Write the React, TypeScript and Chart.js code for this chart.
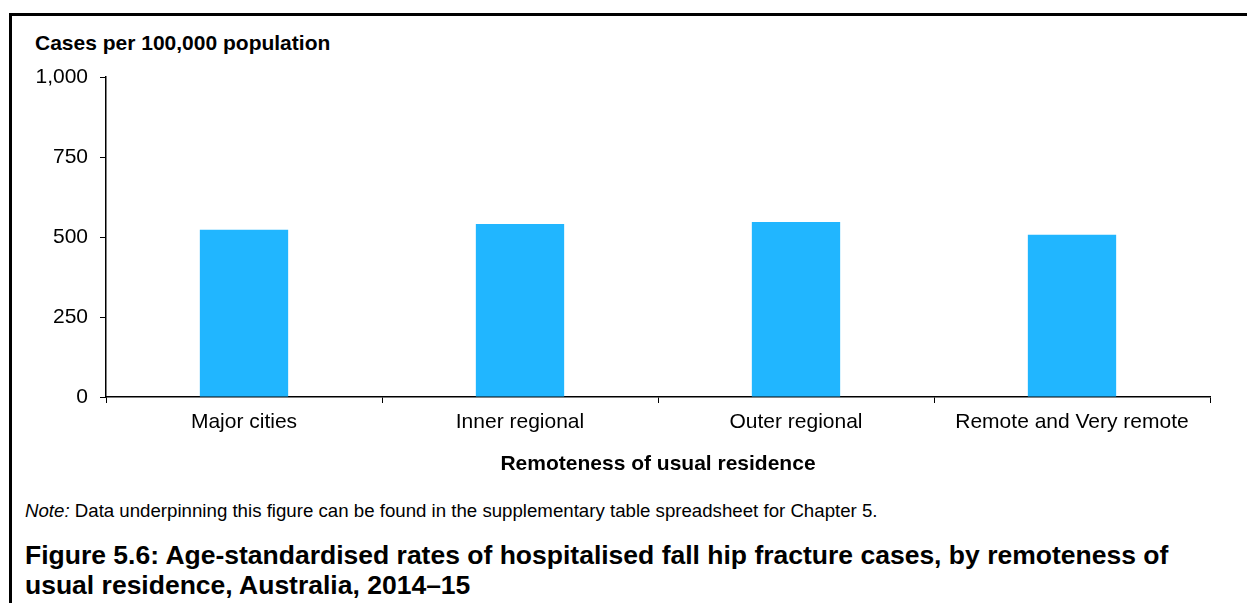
import React, { useEffect, useRef } from 'react';
import { Chart, registerables } from 'chart.js';

Chart.register(...registerables);

const categories = ['Major cities', 'Inner regional', 'Outer regional', 'Remote and Very remote'];
const rates = [523, 541, 547, 507];
const yTicks = [0, 250, 500, 750, 1000];

const FONT = '"Liberation Sans", Arial, Helvetica, sans-serif';
const BAR_COLOR = '#21B6FF';

export default function App() {
  const canvasRef = useRef<HTMLCanvasElement | null>(null);

  useEffect(() => {
    if (!canvasRef.current) return;
    const chart = new Chart(canvasRef.current, {
      type: 'bar',
      data: {
        labels: categories,
        datasets: [
          {
            data: rates,
            backgroundColor: BAR_COLOR,
            borderWidth: 0,
            barPercentage: 0.32,
            categoryPercentage: 1,
          },
        ],
      },
      options: {
        animation: false,
        responsive: false,
        layout: { padding: { left: 0, right: 37, top: 77, bottom: 0 } },
        plugins: {
          legend: { display: false },
          tooltip: { enabled: false },
        },
        scales: {
          x: {
            offset: true,
            grid: {
              display: true,
              drawOnChartArea: false,
              drawTicks: true,
              tickLength: 6,
              color: '#000',
              lineWidth: 1,
              offset: true,
            },
            border: { display: true, color: '#000', width: 1.5 },
            ticks: {
              color: '#000',
              font: { family: FONT, size: 21 },
              padding: 7,
              maxRotation: 0,
              autoSkip: false,
            },
            title: {
              display: true,
              text: 'Remoteness of usual residence',
              color: '#000',
              font: { family: FONT, size: 21, weight: 'bold' },
              padding: { top: 0, bottom: 13 },
            },
            afterFit: (s: any) => {
              s.height = 93;
            },
          },
          y: {
            min: 0,
            max: 1000,
            afterBuildTicks: (s: any) => {
              s.ticks = yTicks.map((v) => ({ value: v }));
            },
            grid: {
              display: true,
              drawOnChartArea: false,
              drawTicks: true,
              tickLength: 6,
              color: '#000',
              lineWidth: 1,
            },
            border: { display: true, color: '#000', width: 1.5 },
            ticks: {
              color: '#000',
              font: { family: FONT, size: 21 },
              padding: 12,
              callback: (v: any) => Number(v).toLocaleString('en-US'),
            },
            afterFit: (s: any) => {
              s.width = 106;
            },
          },
        },
      },
    });
    return () => chart.destroy();
  }, []);

  return (
    <div
      style={{
        position: 'absolute',
        left: 0,
        top: 0,
        width: 1247,
        height: 603,
        overflow: 'hidden',
        background: '#fff',
        fontFamily: FONT,
        color: '#000',
      }}
    >
      <div
        style={{
          position: 'absolute',
          left: 9,
          top: 13,
          width: 1400,
          height: 800,
          borderLeft: '3px solid #000',
          borderTop: '3px solid #000',
          boxSizing: 'border-box',
        }}
      />
      <div
        style={{
          position: 'absolute',
          left: 35,
          top: 32,
          fontSize: 21,
          lineHeight: '21px',
          fontWeight: 'bold',
          whiteSpace: 'nowrap',
        }}
      >
        Cases per 100,000 population
      </div>
      <canvas
        ref={canvasRef}
        width={1247}
        height={490}
        style={{ position: 'absolute', left: 0, top: 0, width: 1247, height: 490 }}
      />
      <div
        style={{
          position: 'absolute',
          left: 25,
          top: 502,
          fontSize: 18.67,
          lineHeight: '18.67px',
          whiteSpace: 'nowrap',
        }}
      >
        <i>Note:</i> Data underpinning this figure can be found in the supplementary table spreadsheet for Chapter 5.
      </div>
      <div
        style={{
          position: 'absolute',
          left: 25,
          top: 540,
          fontSize: 26.5,
          lineHeight: '30px',
          fontWeight: 'bold',
          whiteSpace: 'nowrap',
        }}
      >
        Figure 5.6: Age-standardised rates of hospitalised fall hip fracture cases, by remoteness of
        <br />
        usual residence, Australia, 2014–15
      </div>
    </div>
  );
}
